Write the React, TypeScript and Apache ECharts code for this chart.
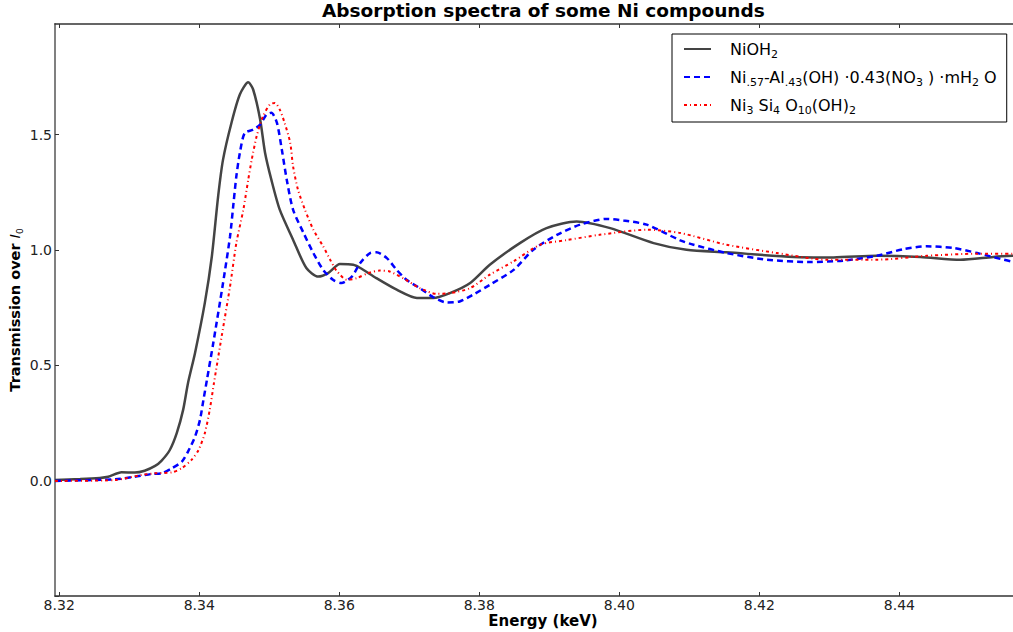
import React, { useEffect, useRef } from "react";
import * as echarts from "echarts";

// ---------- data ----------
const xTickValues = [8.32, 8.34, 8.36, 8.38, 8.4, 8.42, 8.44];
const yTickValues = [-0.5, 0, 0.5, 1.0, 1.5];
const yLabelValues = [0, 0.5, 1.0, 1.5];

const seriesNames = ["NiOH2", "Ni.57-Al.43(OH)·0.43(NO3)·mH2O", "Ni3Si4O10(OH)2"];

const energyNiOH2 = [
  8.3194, 8.323, 8.3258, 8.327, 8.3289, 8.3308, 8.3322, 8.3337, 8.3346, 8.3358,
  8.3368, 8.3377, 8.3384, 8.3394, 8.3408, 8.3418, 8.3427, 8.3434, 8.3446, 8.3458,
  8.347, 8.3477, 8.3487, 8.3494, 8.3503, 8.3515, 8.3534, 8.3553, 8.357, 8.3584,
  8.3601, 8.362, 8.363, 8.3653, 8.3682, 8.3711, 8.3734, 8.3758, 8.3787, 8.3815,
  8.3858, 8.3896, 8.3939, 8.3987, 8.4049, 8.4096, 8.4153, 8.4249, 8.4306, 8.4368,
  8.443, 8.4487, 8.4534, 8.4562, 8.4588,
];
const valuesNiOH2 = [
  0.003, 0.007, 0.012, 0.017, 0.036, 0.035, 0.043, 0.064, 0.086, 0.133,
  0.207, 0.307, 0.424, 0.554, 0.771, 0.972, 1.233, 1.392, 1.551, 1.674,
  1.727, 1.696, 1.566, 1.422, 1.305, 1.175, 1.045, 0.922, 0.885, 0.9,
  0.939, 0.936, 0.922, 0.878, 0.828, 0.792, 0.792, 0.813, 0.857, 0.936,
  1.03, 1.095, 1.124, 1.095, 1.03, 1.001, 0.99, 0.97, 0.968, 0.975,
  0.97, 0.958, 0.97, 0.975, 0.978,
];

const energyNiAl = [
  8.3194, 8.328, 8.3308, 8.3332, 8.3346, 8.3361, 8.3375, 8.3384, 8.3394, 8.3401,
  8.3406, 8.3411, 8.342, 8.3434, 8.3444, 8.3449, 8.3453, 8.3458, 8.3465, 8.3477,
  8.3487, 8.3496, 8.3503, 8.3511, 8.3518, 8.3525, 8.3534, 8.3549, 8.3563, 8.3577,
  8.3591, 8.3603, 8.3618, 8.363, 8.3644, 8.3653, 8.3668, 8.3682, 8.3696, 8.3715,
  8.3734, 8.3753, 8.3772, 8.3791, 8.3815, 8.3849, 8.3877, 8.3911, 8.3944, 8.3982,
  8.4006, 8.4039, 8.4087, 8.4106, 8.4153, 8.4211, 8.4272, 8.432, 8.4368, 8.4406,
  8.4439, 8.4477, 8.4511, 8.4562, 8.4588,
];
const valuesNiAl = [
  -0.001, 0.006, 0.017, 0.029, 0.032, 0.054, 0.082, 0.126, 0.191, 0.263,
  0.35, 0.437, 0.596, 0.857, 1.059, 1.204, 1.319, 1.421, 1.508, 1.522,
  1.544, 1.587, 1.595, 1.551, 1.435, 1.305, 1.175, 1.074, 0.987, 0.914,
  0.871, 0.857, 0.885, 0.944, 0.987, 0.99, 0.965, 0.914, 0.871, 0.835,
  0.796, 0.773, 0.777, 0.806, 0.849, 0.914, 1.001, 1.066, 1.11, 1.135,
  1.128, 1.11, 1.042, 1.023, 0.987, 0.958, 0.948, 0.954, 0.975, 1.004,
  1.016, 1.009, 0.987, 0.949, 0.94,
];

const energyNiSi = [
  8.3194, 8.328, 8.3318, 8.3337, 8.3361, 8.3375, 8.3389, 8.3399, 8.3408, 8.3415,
  8.3421, 8.3432, 8.3444, 8.3453, 8.3463, 8.347, 8.3475, 8.3482, 8.3491, 8.3501,
  8.3508, 8.3515, 8.3522, 8.353, 8.3534, 8.3541, 8.3551, 8.3563, 8.3577, 8.3587,
  8.3596, 8.3611, 8.3625, 8.3641, 8.3658, 8.3672, 8.3691, 8.3715, 8.3739, 8.3758,
  8.3787, 8.3815, 8.3849, 8.3887, 8.3925, 8.3972, 8.4039, 8.4087, 8.4153, 8.4225,
  8.4296, 8.4368, 8.4439, 8.4511, 8.4562, 8.4588,
];
const valuesNiSi = [
  -0.001, 0.003, 0.025, 0.032, 0.036, 0.054, 0.09, 0.133, 0.206, 0.307,
  0.423, 0.625, 0.842, 1.03, 1.175, 1.305, 1.392, 1.493, 1.58, 1.631,
  1.638, 1.609, 1.551, 1.464, 1.363, 1.262, 1.175, 1.088, 1.016, 0.958,
  0.911, 0.871, 0.878, 0.9, 0.911, 0.907, 0.878, 0.835, 0.81, 0.813,
  0.835, 0.893, 0.951, 1.023, 1.043, 1.066, 1.088, 1.074, 1.023, 0.987,
  0.958, 0.958, 0.975, 0.984, 0.984, 0.984,
];

const FONT = "DejaVu Sans";

const zip = (xs: number[], ys: number[]) => xs.map((x, i) => [x, ys[i]]);

const legendRich: Record<string, string> = {
  "NiOH2": "NiOH{s|2}",
  "Ni.57-Al.43(OH)·0.43(NO3)·mH2O": "Ni{s|.57}-Al{s|.43}(OH) ·0.43(NO{s|3} ) ·mH{s|2} O",
  "Ni3Si4O10(OH)2": "Ni{s|3} Si{s|4} O{s|10}(OH){s|2}",
};

export default function App() {
  const ref = useRef<HTMLDivElement>(null);
  useEffect(() => {
    if (!ref.current) return;
    const chart = echarts.init(ref.current, null, { renderer: "svg" });
    const xMin = 8.3194;
    const xMax = 8.4588;
    const commonX = {
      type: "value",
      min: xMin,
      max: xMax,
      splitLine: { show: false },
    };
    const lineCommon = { showSymbol: false, symbol: "circle", symbolSize: 0, smooth: 0.25 };
    chart.setOption({
      animation: false,
      backgroundColor: "#ffffff",
      title: {
        text: "Absorption spectra of some Ni compounds",
        left: 322,
        top: 1,
        padding: 0,
        textStyle: { fontFamily: FONT, fontSize: 18.5, fontWeight: "bold", color: "#000" },
      },
      grid: { left: 55, right: -18, top: 24, bottom: 36, containLabel: false, outerBoundsMode: "none" },
      legend: {
        orient: "vertical",
        left: 672,
        top: 34,
        padding: [4, 10, 6, 11],
        itemWidth: 27,
        itemHeight: 14,
        itemGap: 6,
        borderColor: "#000",
        borderWidth: 1,
        backgroundColor: "#fff",
        borderRadius: 0,
        data: seriesNames,
        itemStyle: { opacity: 0 },
        formatter: (name: string) => legendRich[name] || name,
        textStyle: {
          fontFamily: FONT,
          fontSize: 16,
          color: "#000",
          lineHeight: 22,
          padding: [0, 0, 0, 14],
          rich: {
            s: { fontFamily: FONT, fontSize: 11, color: "#000", lineHeight: 8, verticalAlign: "bottom" },
          },
        },
      },
      xAxis: [
        {
          ...commonX,
          position: "bottom",
          name: "Energy (keV)",
          nameLocation: "middle",
          nameGap: 17,
          nameMoveOverlap: false,
          nameTextStyle: { fontFamily: FONT, fontSize: 15, fontWeight: "bold", color: "#000" },
          axisLine: { show: true, onZero: false, lineStyle: { color: "#333", width: 1.5 } },
          axisTick: { show: true, inside: true, length: 4, customValues: xTickValues, lineStyle: { color: "#333" } },
          axisLabel: {
            show: true,
            customValues: xTickValues,
            formatter: (v: number) => v.toFixed(2),
            fontFamily: FONT,
            fontSize: 14,
            color: "#222",
            margin: 2,
          },
        },
        {
          ...commonX,
          position: "top",
          axisLine: { show: true, onZero: false, lineStyle: { color: "#333", width: 1.5 } },
          axisTick: { show: true, inside: true, length: 4, customValues: xTickValues, lineStyle: { color: "#333" } },
          axisLabel: { show: false },
        },
      ],
      yAxis: [
        {
          type: "value",
          min: -0.5,
          max: 1.98,
          position: "left",
          splitLine: { show: false },
          name: "Transmission over {i|I}{s|0}",
          nameLocation: "middle",
          nameRotate: 90,
          nameGap: 31,
          nameMoveOverlap: false,
          nameTextStyle: {
            fontFamily: FONT,
            fontSize: 14.5,
            fontWeight: "bold",
            color: "#000",
            lineHeight: 18,
            rich: {
              i: { fontFamily: FONT, fontStyle: "italic", fontWeight: "normal", fontSize: 14.5, color: "#000", lineHeight: 18 },
              s: { fontFamily: FONT, fontWeight: "normal", fontSize: 9, color: "#000", lineHeight: 9, verticalAlign: "bottom" },
            },
          },
          axisLine: { show: true, onZero: false, lineStyle: { color: "#808080", width: 2 } },
          axisTick: { show: true, inside: true, length: 4, customValues: yTickValues, lineStyle: { color: "#333" } },
          axisLabel: {
            show: true,
            customValues: yLabelValues,
            formatter: (v: number) => v.toFixed(1),
            fontFamily: FONT,
            fontSize: 14,
            color: "#222",
            margin: 3,
          },
        },
      ],
      series: [
        {
          ...lineCommon,
          name: seriesNames[0],
          type: "line",
          data: zip(energyNiOH2, valuesNiOH2),
          lineStyle: { color: "#444444", width: 2.5, type: "solid" },
          itemStyle: { color: "#444444" },
        },
        {
          ...lineCommon,
          name: seriesNames[1],
          type: "line",
          data: zip(energyNiAl, valuesNiAl),
          lineStyle: { color: "#0000ff", width: 2.5, type: [6, 4] },
          itemStyle: { color: "#0000ff" },
        },
        {
          ...lineCommon,
          name: seriesNames[2],
          type: "line",
          data: zip(energyNiSi, valuesNiSi),
          lineStyle: { color: "#ff0000", width: 2, type: [3, 3, 1, 3] },
          itemStyle: { color: "#ff0000" },
        },
      ],
    });
    return () => chart.dispose();
  }, []);
  return (
    <div
      ref={ref}
      style={{ position: "fixed", left: 0, top: 0, width: 1013, height: 632, overflow: "hidden" }}
    />
  );
}
